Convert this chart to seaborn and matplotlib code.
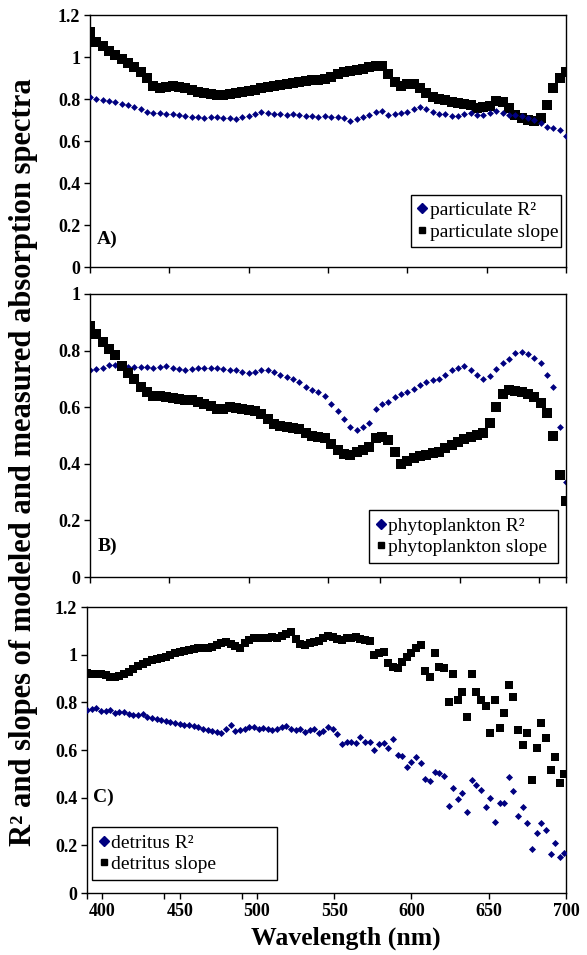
import numpy as np
import pandas as pd
import matplotlib
matplotlib.use("Agg")
import matplotlib.pyplot as plt
import seaborn as sns
from matplotlib.lines import Line2D
from matplotlib.ticker import FuncFormatter

# ---------------- data ----------------
wl_ab = np.arange(400, 701, 4)

part_r2 = [0.81, 0.80, 0.795, 0.79, 0.785, 0.775, 0.77, 0.76, 0.75, 0.74,
           0.735, 0.735, 0.73, 0.73, 0.725, 0.72, 0.715, 0.715, 0.71, 0.715,
           0.715, 0.71, 0.71, 0.705, 0.715, 0.72, 0.73, 0.74, 0.735, 0.73,
           0.73, 0.725, 0.73, 0.725, 0.72, 0.72, 0.715, 0.72, 0.715, 0.715,
           0.71, 0.695, 0.705, 0.715, 0.725, 0.74, 0.745, 0.725, 0.73, 0.735,
           0.74, 0.75, 0.76, 0.75, 0.74, 0.73, 0.73, 0.72, 0.72, 0.73,
           0.735, 0.725, 0.725, 0.735, 0.745, 0.735, 0.725, 0.725, 0.72, 0.71,
           0.70, 0.685, 0.665, 0.66, 0.65, 0.625]
part_slope = [1.12, 1.07, 1.05, 1.03, 1.01, 0.99, 0.97, 0.95, 0.93, 0.90,
              0.86, 0.85, 0.855, 0.86, 0.855, 0.85, 0.845, 0.835, 0.83, 0.825,
              0.82, 0.82, 0.825, 0.83, 0.835, 0.84, 0.845, 0.85, 0.855, 0.86,
              0.865, 0.87, 0.875, 0.88, 0.885, 0.89, 0.89, 0.895, 0.905, 0.92,
              0.93, 0.935, 0.94, 0.945, 0.95, 0.955, 0.955, 0.92, 0.88, 0.86,
              0.87, 0.87, 0.85, 0.83, 0.81, 0.80, 0.795, 0.785, 0.78, 0.775,
              0.77, 0.755, 0.76, 0.765, 0.79, 0.785, 0.755, 0.725, 0.71, 0.70,
              0.695, 0.71, 0.77, 0.85, 0.90, 0.93]

phyto_r2 = [0.733, 0.735, 0.74, 0.748, 0.75, 0.745, 0.743, 0.742, 0.742, 0.742,
            0.74, 0.742, 0.745, 0.74, 0.735, 0.733, 0.735, 0.737, 0.738, 0.74,
            0.74, 0.735, 0.732, 0.73, 0.725, 0.722, 0.726, 0.732, 0.733, 0.725,
            0.715, 0.705, 0.698, 0.69, 0.67, 0.66, 0.652, 0.64, 0.61, 0.585,
            0.56, 0.53, 0.52, 0.53, 0.545, 0.595, 0.61, 0.618, 0.635, 0.645,
            0.652, 0.665, 0.68, 0.69, 0.695, 0.70, 0.715, 0.73, 0.74, 0.745,
            0.73, 0.715, 0.70, 0.71, 0.735, 0.755, 0.772, 0.79, 0.795, 0.788,
            0.775, 0.755, 0.715, 0.67, 0.53, 0.336]
phyto_slope = [0.888, 0.857, 0.83, 0.805, 0.785, 0.745, 0.72, 0.70, 0.672, 0.652,
               0.64, 0.638, 0.636, 0.633, 0.63, 0.627, 0.625, 0.62, 0.612, 0.603,
               0.595, 0.592, 0.60, 0.597, 0.592, 0.59, 0.585, 0.575, 0.56, 0.54,
               0.535, 0.53, 0.528, 0.522, 0.51, 0.50, 0.495, 0.49, 0.47, 0.45,
               0.435, 0.43, 0.44, 0.45, 0.46, 0.49, 0.495, 0.485, 0.44, 0.40,
               0.41, 0.42, 0.428, 0.432, 0.437, 0.442, 0.455, 0.467, 0.478, 0.488,
               0.495, 0.503, 0.51, 0.545, 0.60, 0.645, 0.66, 0.657, 0.652, 0.645,
               0.635, 0.615, 0.58, 0.50, 0.36, 0.27]

wl_c = np.arange(390, 700, 3)

det_r2 = [0.768, 0.772, 0.776, 0.762, 0.765, 0.768, 0.755, 0.758, 0.76, 0.752,
          0.747, 0.748, 0.75, 0.74, 0.734, 0.73, 0.726, 0.722, 0.718, 0.712,
          0.709, 0.705, 0.705, 0.70, 0.697, 0.69, 0.685, 0.68, 0.676, 0.672,
          0.69, 0.705, 0.68, 0.685, 0.69, 0.697, 0.695, 0.69, 0.692, 0.688,
          0.684, 0.69, 0.695, 0.70, 0.69, 0.685, 0.688, 0.676, 0.685, 0.69,
          0.672, 0.678, 0.697, 0.688, 0.668, 0.625, 0.635, 0.635, 0.63, 0.655,
          0.635, 0.634, 0.60, 0.625, 0.628, 0.608, 0.645, 0.578, 0.575, 0.53,
          0.55, 0.57, 0.546, 0.48, 0.47, 0.508, 0.505, 0.49, 0.365, 0.44,
          0.394, 0.42, 0.34, 0.474, 0.453, 0.432, 0.36, 0.40, 0.30, 0.378,
          0.378, 0.487, 0.428, 0.323, 0.36, 0.294, 0.185, 0.252, 0.294, 0.264,
          0.164, 0.21, 0.151, 0.168]
det_slope = [0.923, 0.92, 0.92, 0.918, 0.915, 0.908, 0.905, 0.91, 0.918, 0.928,
             0.94, 0.953, 0.962, 0.97, 0.978, 0.982, 0.988, 0.99, 0.998, 1.005,
             1.01, 1.015, 1.02, 1.022, 1.026, 1.03, 1.028, 1.032, 1.04, 1.048,
             1.053, 1.045, 1.035, 1.03, 1.05, 1.062, 1.068, 1.07, 1.07, 1.072,
             1.075, 1.068, 1.08, 1.088, 1.095, 1.065, 1.045, 1.042, 1.05, 1.053,
             1.058, 1.07, 1.08, 1.075, 1.065, 1.06, 1.07, 1.072, 1.075, 1.065,
             1.06, 1.058, 1.0, 1.005, 1.01, 0.965, 0.95, 0.945, 0.97, 0.99,
             1.007, 1.028, 1.04, 0.93, 0.905, 1.007, 0.948, 0.944, 0.80, 0.92,
             0.81, 0.845, 0.74, 0.92, 0.845, 0.81, 0.785, 0.67, 0.81, 0.692,
             0.755, 0.873, 0.823, 0.684, 0.62, 0.67, 0.474, 0.61, 0.713, 0.65,
             0.516, 0.57, 0.46, 0.50]

labels_a = ["particulate R\u00b2", "particulate slope"]
labels_b = ["phytoplankton R\u00b2", "phytoplankton slope"]
labels_c = ["detritus R\u00b2", "detritus slope"]

# ---------------- style ----------------
sns.set_theme(style="white")
plt.rcParams["font.family"] = ["Liberation Serif", "DejaVu Serif"]
plt.rcParams.update({
    "text.color": "black", "axes.labelcolor": "black",
    "xtick.color": "black", "ytick.color": "black",
    "axes.edgecolor": "black", "axes.linewidth": 1.0,
})

BLUE = "#000080"
W, H = 587, 955
fig = plt.figure(figsize=(W / 100, H / 100), dpi=100)


def add_ax(l, r, t, b):
    return fig.add_axes([l / W, 1 - b / H, (r - l) / W, (b - t) / H])


ax_a = add_ax(90, 566, 15, 267)
ax_b = add_ax(90, 566, 294, 577)
ax_c = add_ax(87, 566, 607, 893)

fmt = FuncFormatter(lambda v, p: f"{v:g}")


def draw(ax, wl, r2, slope, s_sq, s_dm, sq_z=2, dm_z=3):
    df = pd.DataFrame({"wl": wl, "r2": r2, "slope": slope})
    sns.scatterplot(data=df, x="wl", y="slope", ax=ax, marker="s", color="black",
                    s=s_sq, linewidth=0, zorder=sq_z, legend=False)
    sns.scatterplot(data=df, x="wl", y="r2", ax=ax, marker="D", color=BLUE,
                    s=s_dm, linewidth=0, zorder=dm_z, legend=False)
    ax.set_xlabel("")
    ax.set_ylabel("")
    ax.tick_params(axis="both", which="both", direction="out", length=4, width=1,
                   bottom=True, left=True, labelsize=13, pad=3)
    for sp in ax.spines.values():
        sp.set_color("black")
        sp.set_linewidth(1.0)


def legend(ax, labels, bbox, size):
    handles = [Line2D([], [], marker="D", color=BLUE, linestyle="none", markersize=5),
               Line2D([], [], marker="s", color="black", linestyle="none", markersize=5)]
    leg = ax.legend(handles, labels, loc="center left", bbox_to_anchor=bbox,
                    mode="expand", frameon=True, fancybox=False, framealpha=1,
                    edgecolor="black", handlelength=0.5, handletextpad=0.15,
                    borderpad=0.35, labelspacing=0.2, borderaxespad=0,
                    prop={"family": "Liberation Serif", "size": size})
    leg.get_frame().set_linewidth(1.0)
    leg.set_zorder(10)


def bold_ticks(ax):
    ax.yaxis.set_major_formatter(fmt)
    for lab in ax.get_yticklabels() + ax.get_xticklabels():
        lab.set_fontweight("bold")


# Panel A
draw(ax_a, wl_ab, part_r2, part_slope, 42, 12)
ax_a.set_xlim(400, 700)
ax_a.set_ylim(0, 1.2)
ax_a.set_yticks([0, 0.2, 0.4, 0.6, 0.8, 1.0, 1.2])
ax_a.set_xticks([400, 450, 500, 550, 600, 650, 700])
ax_a.set_xticklabels([])
bold_ticks(ax_a)
legend(ax_a, labels_a, (0.674, 0.075, 0.315, 0.215), 14)
ax_a.text(0.015, 0.111, "A)", transform=ax_a.transAxes, fontsize=14,
          fontweight="bold", va="center", ha="left")

# Panel B
draw(ax_b, wl_ab, phyto_r2, phyto_slope, 42, 12, sq_z=3, dm_z=2)
ax_b.set_xlim(400, 700)
ax_b.set_ylim(0, 1.0)
ax_b.set_yticks([0, 0.2, 0.4, 0.6, 0.8, 1.0])
ax_b.set_xticks([400, 450, 500, 550, 583, 633, 683, 700])
ax_b.set_xticklabels([])
bold_ticks(ax_b)
legend(ax_b, labels_b, (0.586, 0.032, 0.397, 0.222), 14)
ax_b.text(0.017, 0.11, "B)", transform=ax_b.transAxes, fontsize=14,
          fontweight="bold", va="center", ha="left")

# Panel C
draw(ax_c, wl_c, det_r2, det_slope, 40, 13)
ax_c.set_xlim(390, 700)
ax_c.set_ylim(0, 1.2)
ax_c.set_yticks([0, 0.2, 0.4, 0.6, 0.8, 1.0, 1.2])
ax_c.set_xticks([400, 450, 500, 550, 600, 650, 700])
ax_c.set_xticks([390, 440, 490], minor=True)
ax_c.tick_params(axis="x", which="minor", length=4, width=1, bottom=True)
bold_ticks(ax_c)
legend(ax_c, labels_c, (0.0104, 0.028, 0.386, 0.22), 14)
ax_c.text(0.0125, 0.336, "C)", transform=ax_c.transAxes, fontsize=14,
          fontweight="bold", va="center", ha="left")

fig.text(346 / W, 1 - 938 / H, "Wavelength (nm)", fontsize=18.5,
         fontweight="bold", ha="center", va="center")
fig.text(24 / W, 1 - 462 / H,
         "R\u00b2 and slopes of modeled and measured absorption spectra",
         fontsize=22, fontweight="bold", rotation=90, ha="center", va="center")

fig.savefig("out.png", dpi=100)
